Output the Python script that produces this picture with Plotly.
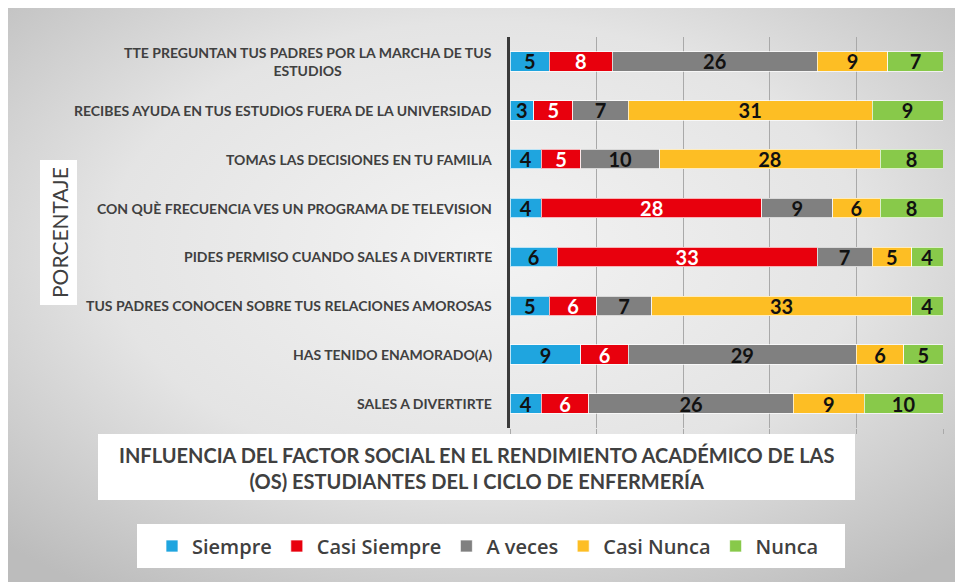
import base64
import plotly.graph_objects as go

categories = [
    "TTE PREGUNTAN TUS PADRES POR LA MARCHA DE TUS<br>ESTUDIOS",
    "RECIBES AYUDA EN TUS ESTUDIOS FUERA DE LA UNIVERSIDAD",
    "TOMAS LAS DECISIONES EN TU FAMILIA",
    "CON QUÈ FRECUENCIA VES UN PROGRAMA DE TELEVISION",
    "PIDES PERMISO CUANDO SALES A DIVERTIRTE",
    "TUS PADRES CONOCEN SOBRE TUS RELACIONES AMOROSAS",
    "HAS TENIDO ENAMORADO(A)",
    "SALES A DIVERTIRTE",
]
series_names = ["Siempre", "Casi Siempre", "A veces", "Casi Nunca", "Nunca"]
siempre = [5, 3, 4, 4, 6, 5, 9, 4]
casi_siempre = [8, 5, 5, 28, 33, 6, 6, 6]
a_veces = [26, 7, 10, 9, 7, 7, 29, 26]
casi_nunca = [9, 31, 28, 6, 5, 33, 6, 9]
nunca = [7, 9, 8, 8, 4, 4, 5, 10]
series_values = [siempre, casi_siempre, a_veces, casi_nunca, nunca]
colors = ["#1FA5DF", "#E8000D", "#808080", "#FDBE24", "#88C94A"]
text_colors = ["#111111", "#FFFFFF", "#111111", "#111111", "#111111"]
title_text = ("INFLUENCIA DEL FACTOR SOCIAL EN EL RENDIMIENTO ACADÉMICO DE LAS<br>"
              "(OS) ESTUDIANTES DEL I CICLO DE ENFERMERÍA")
ylabel_text = "PORCENTAJE"

# page body margin places the figure at (8, 8) in the window
OFF = 8
W, H = 963 - OFF, 582 - OFF
L, R, T, B = 510 - OFF, 20, 37 - OFF, 154
PW, PH = W - L - R, H - T - B


def px(x):  # window x -> paper
    return (x - OFF - L) / PW


def py(y):  # window y -> paper
    return (H - B - (y - OFF)) / PH


FONT = "Lato, 'Open Sans', sans-serif"
LEGFONT = "'Open Sans', Lato, sans-serif"
DARK = "#404040"

fig = go.Figure()
for name, vals, c, tc in zip(series_names, series_values, colors, text_colors):
    fig.add_trace(go.Bar(
        y=categories, x=vals, name=name, orientation="h",
        marker=dict(color=c, line=dict(color="rgba(255,255,255,0.7)", width=1)),
        text=[str(v) for v in vals], textposition="inside",
        insidetextanchor="middle", textangle=0, constraintext="none",
        textfont=dict(family=FONT, size=20, color=tc, weight="bold"),
        hoverinfo="x+name",
    ))

# background gradient
svg = ("<svg xmlns='http://www.w3.org/2000/svg' width='955' height='575' preserveAspectRatio='none'>"
       "<defs><radialGradient id='g' cx='0.5' cy='0.42' r='0.72'>"
       "<stop offset='0' stop-color='#f3f3f3'/><stop offset='0.55' stop-color='#e4e4e4'/>"
       "<stop offset='1' stop-color='#bcbcbc'/></radialGradient></defs>"
       "<rect width='955' height='575' fill='url(#g)'/></svg>")
src = "data:image/svg+xml;base64," + base64.b64encode(svg.encode()).decode()
fig.add_layout_image(dict(
    source=src, xref="paper", yref="paper", x=px(OFF), y=py(OFF),
    sizex=W / PW, sizey=H / PH, xanchor="left", yanchor="top",
    sizing="stretch", layer="below",
))

shapes = [
    dict(type="rect", xref="paper", yref="paper", x0=px(98), x1=px(855), y0=py(500), y1=py(434),
         fillcolor="white", line=dict(width=0), layer="below"),
    dict(type="rect", xref="paper", yref="paper", x0=px(137), x1=px(845), y0=py(568), y1=py(524),
         fillcolor="white", line=dict(width=0), layer="below"),
    dict(type="rect", xref="paper", yref="paper", x0=px(40), x1=px(77), y0=py(305), y1=py(160),
         fillcolor="white", line=dict(width=0), layer="below"),
]

annotations = [
    dict(text=title_text, xref="paper", yref="paper", x=px(476), y=py(468),
         xanchor="center", yanchor="middle", showarrow=False, align="center",
         font=dict(family=FONT, size=20, color=DARK, weight="bold")),
    dict(text=ylabel_text, xref="paper", yref="paper", x=px(59), y=py(232),
         xanchor="center", yanchor="middle", showarrow=False, textangle=-90,
         font=dict(family=FONT, size=21, color=DARK)),
]
for cat in categories:
    annotations.append(dict(
        text=cat, xref="paper", yref="y", x=px(494), y=cat, xanchor="right",
        yanchor="middle", showarrow=False, align="center",
        font=dict(family=FONT, size=14, color=DARK, weight="bold")))

fig.update_layout(
    width=W, height=H, margin=dict(l=L, r=R, t=T, b=B, autoexpand=False),
    paper_bgcolor="white", plot_bgcolor="rgba(0,0,0,0)",
    barmode="stack", bargap=0.6,
    shapes=shapes, annotations=annotations,
    showlegend=True,
    legend=dict(orientation="h", xref="paper", yref="paper",
                x=px(152), y=py(546),
                xanchor="left", yanchor="middle",
                bgcolor="rgba(0,0,0,0)",
                font=dict(family=LEGFONT, size=20, color=DARK, weight=600),
                traceorder="normal"),
    xaxis=dict(range=[0, 55], tick0=0, dtick=11, showgrid=True, gridcolor="#a9a9a9",
               gridwidth=1, showticklabels=False, ticks="outside", ticklen=5,
               tickcolor="#a9a9a9", zeroline=False, showline=False, fixedrange=True),
    yaxis=dict(type="category", categoryorder="array", categoryarray=categories,
               autorange="reversed", showticklabels=False, showline=True,
               linecolor="#3a3a3a", linewidth=3, ticks="", showgrid=False,
               fixedrange=True),
)

fig.write_html("out.html")
